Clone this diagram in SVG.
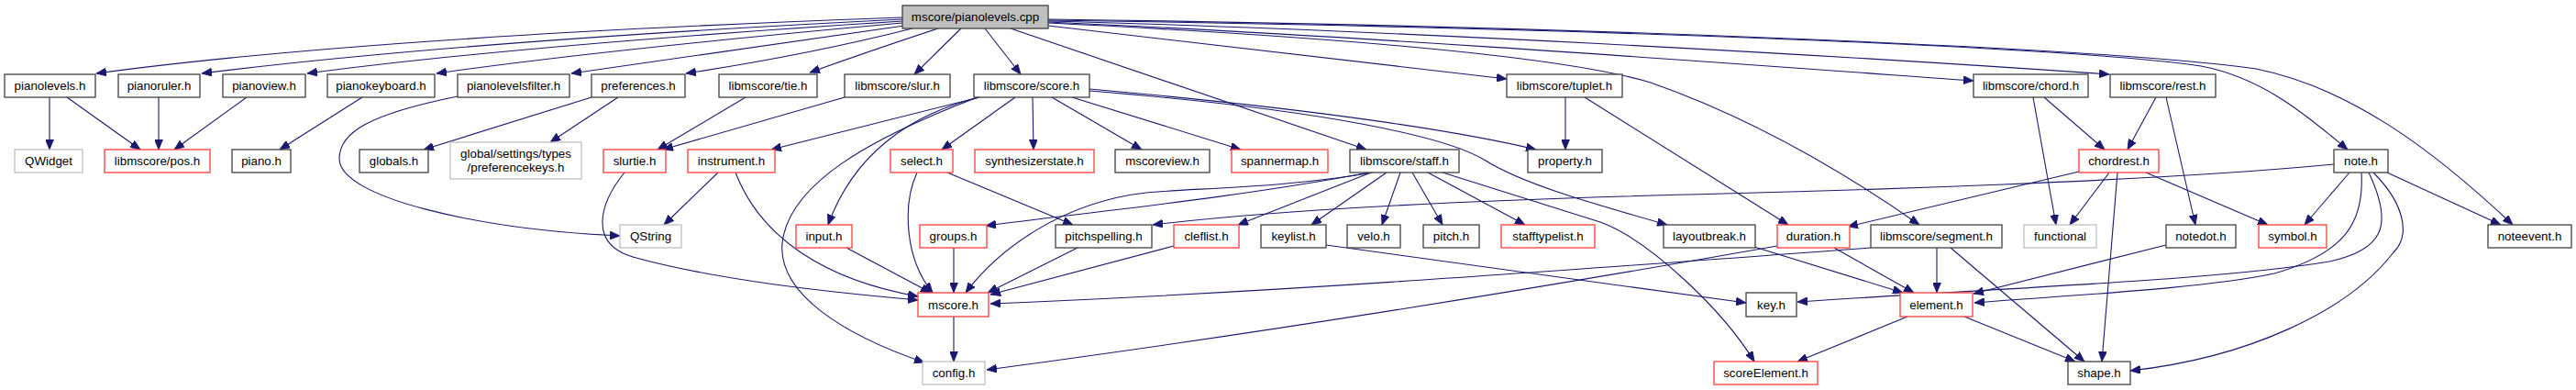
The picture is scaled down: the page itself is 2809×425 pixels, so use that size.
<svg xmlns="http://www.w3.org/2000/svg" width="2809" height="425" viewBox="0 0 2809 425">
<style>
.n rect{fill:#fff;stroke:#404040;stroke-width:1.3}
.r rect{fill:#fff;stroke:#ff3b3b;stroke-width:1.3}
.g rect{fill:#fff;stroke:#bfbfbf;stroke-width:1.3}
.root rect{fill:#bfbfbf;stroke:#404040;stroke-width:1.3}
text{font-family:"Liberation Sans",Arial,Helvetica,sans-serif;font-size:13.33px;text-anchor:middle;fill:#000}
#edges path{fill:none;stroke:#191970;stroke-width:1.1;marker-end:url(#a)}
</style>
<defs>
<marker id="a" markerWidth="12" markerHeight="9" refX="11" refY="4.5" orient="auto" markerUnits="userSpaceOnUse"><path d="M0,0 L11,4.5 L0,9 z" fill="#191970" stroke="#191970" stroke-width="0.8"/></marker>
</defs>
<rect width="2809" height="425" fill="#fff"/>
<g id="edges">
<path d="M984,19 Q400,40 105,80"/>
<path d="M984,21 Q500,45 220,80"/>
<path d="M984,23 Q560,50 335,80"/>
<path d="M984,25 Q650,55 476,80"/>
<path d="M986,28 Q800,55 623,80"/>
<path d="M995,31 Q880,60 748,80"/>
<path d="M1023,31 Q950,55 883,79"/>
<path d="M1048,31 L997,81"/>
<path d="M1074,31 L1113,81"/>
<path d="M1102,31 L1490,163"/>
<path d="M1143,28 L1643,86"/>
<path d="M1143,25 C1450,40 1700,60 1800,90 C1900,125 2000,180 2093,245"/>
<path d="M1143,24 C1500,40 1900,70 2152,88"/>
<path d="M1143,23 C1500,32 2000,60 2300,81"/>
<path d="M1143,22 C1700,30 2250,50 2400,72 C2470,85 2520,130 2560,163"/>
<path d="M1143,21 C1700,28 2300,52 2460,75 C2560,95 2650,160 2740,245"/>
<path d="M54,106 L54,163"/>
<path d="M73,106 L153,163"/>
<path d="M173,106 L173,163"/>
<path d="M269,106 L190,163"/>
<path d="M395,106 L305,163"/>
<path d="M499,105 C400,125 370,145 370,173 C370,215 520,250 676,257"/>
<path d="M645,106 L462,163"/>
<path d="M674,106 L600,155"/>
<path d="M813,106 L717,163"/>
<path d="M921,106 L723,163"/>
<path d="M681,188 C655,220 640,265 690,280 C780,305 900,318 1001,327"/>
<path d="M783,188 L724,245"/>
<path d="M802,188 C830,260 900,305 1001,323"/>
<path d="M1068,106 L841,163"/>
<path d="M1068,106 C990,125 930,170 903,245"/>
<path d="M1066,106 C950,150 860,200 853,265 C848,320 920,365 1008,395"/>
<path d="M1107,106 L1027,163"/>
<path d="M1126,106 L1127,163"/>
<path d="M1147,106 L1245,163"/>
<path d="M1169,106 L1353,163"/>
<path d="M1188,97 C1450,120 1600,145 1675,163"/>
<path d="M1188,99 C1450,120 1580,150 1620,175 C1660,200 1730,220 1818,245"/>
<path d="M1000,188 C985,220 985,280 1017,319"/>
<path d="M1033,188 L1170,245"/>
<path d="M1040,270 L1040,319"/>
<path d="M1175,270 L1077,319"/>
<path d="M1280,268 L1080,321"/>
<path d="M923,270 L1015,319"/>
<path d="M1040,345 L1040,394"/>
<path d="M1497,188 C1400,205 1300,205 1250,210 C1160,220 1090,270 1053,319"/>
<path d="M1493,188 C1350,215 1200,230 1075,246"/>
<path d="M1495,188 L1350,245"/>
<path d="M1512,188 L1430,245"/>
<path d="M1527,188 L1507,245"/>
<path d="M1540,188 L1573,245"/>
<path d="M1557,188 L1663,245"/>
<path d="M1573,188 L1745,242 C1800,262 1880,340 1913,394"/>
<path d="M1707,106 L1707,163"/>
<path d="M1728,106 L1950,245"/>
<path d="M2229,106 L2295,163"/>
<path d="M2217,106 L2242,245"/>
<path d="M2351,106 L2320,163"/>
<path d="M2362,106 L2394,245"/>
<path d="M2267,187 L2015,247"/>
<path d="M2300,188 L2257,245"/>
<path d="M2309,188 L2292,394"/>
<path d="M2340,188 L2473,245"/>
<path d="M2545,179 C2350,198 2000,208 1880,211 C1600,218 1400,228 1257,245"/>
<path d="M2562,188 L2513,245"/>
<path d="M2603,188 L2727,245"/>
<path d="M2575,188 C2578,240 2560,275 2480,298 C2400,315 2250,322 2153,330"/>
<path d="M2583,188 C2610,245 2600,272 2540,285 C2420,305 2200,313 1960,329"/>
<path d="M2588,188 C2620,220 2630,255 2610,275 C2560,340 2450,390 2323,404"/>
<path d="M2362,267 L2152,320"/>
<path d="M1913,269 L2075,319"/>
<path d="M2000,270 L2087,319"/>
<path d="M2112,270 L2112,319"/>
<path d="M2127,270 L2273,394"/>
<path d="M2080,345 L1960,394"/>
<path d="M2142,345 L2263,394"/>
<path d="M1446,267 L1904,330"/>
<path d="M1938,268 C1700,310 1400,360 1076,403"/>
<path d="M2040,270 C1700,295 1400,318 1080,331"/>
</g>
<g id="root" class="root"><rect x="984" y="6" width="159" height="25"/><text x="1063.5" y="23">mscore/pianolevels.cpp</text></g>
<g id="pianolevels_h" class="n"><rect x="5" y="81" width="99" height="25"/><text x="54.5" y="98">pianolevels.h</text></g>
<g id="pianoruler_h" class="n"><rect x="129" y="81" width="89" height="25"/><text x="173.5" y="98">pianoruler.h</text></g>
<g id="pianoview_h" class="n"><rect x="243" y="81" width="90" height="25"/><text x="288" y="98">pianoview.h</text></g>
<g id="pianokeyboard_h" class="n"><rect x="357" y="81" width="117" height="25"/><text x="415.5" y="98">pianokeyboard.h</text></g>
<g id="pianolevelsfilter_h" class="n"><rect x="499" y="81" width="122" height="25"/><text x="560" y="98">pianolevelsfilter.h</text></g>
<g id="preferences_h" class="n"><rect x="645" y="81" width="102" height="25"/><text x="696" y="98">preferences.h</text></g>
<g id="tie_h" class="n"><rect x="784" y="81" width="107" height="25"/><text x="837.5" y="98">libmscore/tie.h</text></g>
<g id="slur_h" class="n"><rect x="921" y="81" width="115" height="25"/><text x="978.5" y="98">libmscore/slur.h</text></g>
<g id="score_h" class="n"><rect x="1062" y="81" width="126" height="25"/><text x="1125" y="98">libmscore/score.h</text></g>
<g id="tuplet_h" class="n"><rect x="1643" y="81" width="126" height="25"/><text x="1706" y="98">libmscore/tuplet.h</text></g>
<g id="chord_h" class="n"><rect x="2152" y="81" width="125" height="25"/><text x="2214.5" y="98">libmscore/chord.h</text></g>
<g id="rest_h" class="n"><rect x="2301" y="81" width="115" height="25"/><text x="2358.5" y="98">libmscore/rest.h</text></g>
<g id="QWidget" class="g"><rect x="16" y="163" width="74" height="25"/><text x="53" y="180">QWidget</text></g>
<g id="pos_h" class="r"><rect x="114" y="163" width="115" height="25"/><text x="171.5" y="180">libmscore/pos.h</text></g>
<g id="piano_h" class="n"><rect x="253" y="163" width="64" height="25"/><text x="285" y="180">piano.h</text></g>
<g id="globals_h" class="n"><rect x="392" y="163" width="75" height="25"/><text x="429.5" y="180">globals.h</text></g>
<g id="preferencekeys_h" class="g"><rect x="491" y="155" width="143" height="40"/><text x="562.5" y="171.5">global/settings/types</text><text x="562.5" y="186.5">/preferencekeys.h</text></g>
<g id="slurtie_h" class="r"><rect x="658" y="163" width="68" height="25"/><text x="692" y="180">slurtie.h</text></g>
<g id="instrument_h" class="r"><rect x="750" y="163" width="95" height="25"/><text x="797.5" y="180">instrument.h</text></g>
<g id="select_h" class="r"><rect x="971" y="163" width="68" height="25"/><text x="1005" y="180">select.h</text></g>
<g id="synthesizerstate_h" class="r"><rect x="1063" y="163" width="130" height="25"/><text x="1128" y="180">synthesizerstate.h</text></g>
<g id="mscoreview_h" class="n"><rect x="1216" y="163" width="103" height="25"/><text x="1267.5" y="180">mscoreview.h</text></g>
<g id="spannermap_h" class="r"><rect x="1343" y="163" width="105" height="25"/><text x="1395.5" y="180">spannermap.h</text></g>
<g id="staff_h" class="n"><rect x="1472" y="163" width="119" height="25"/><text x="1531.5" y="180">libmscore/staff.h</text></g>
<g id="property_h" class="n"><rect x="1666" y="163" width="81" height="25"/><text x="1706.5" y="180">property.h</text></g>
<g id="chordrest_h" class="r"><rect x="2267" y="163" width="87" height="25"/><text x="2310.5" y="180">chordrest.h</text></g>
<g id="note_h" class="n"><rect x="2545" y="163" width="59" height="25"/><text x="2574.5" y="180">note.h</text></g>
<g id="QString" class="g"><rect x="676" y="245" width="67" height="25"/><text x="709.5" y="262">QString</text></g>
<g id="input_h" class="r"><rect x="868" y="245" width="61" height="25"/><text x="898.5" y="262">input.h</text></g>
<g id="groups_h" class="r"><rect x="1003" y="245" width="73" height="25"/><text x="1039.5" y="262">groups.h</text></g>
<g id="pitchspelling_h" class="n"><rect x="1151" y="245" width="105" height="25"/><text x="1203.5" y="262">pitchspelling.h</text></g>
<g id="cleflist_h" class="r"><rect x="1280" y="245" width="71" height="25"/><text x="1315.5" y="262">cleflist.h</text></g>
<g id="keylist_h" class="n"><rect x="1375" y="245" width="71" height="25"/><text x="1410.5" y="262">keylist.h</text></g>
<g id="velo_h" class="n"><rect x="1469" y="245" width="58" height="25"/><text x="1498" y="262">velo.h</text></g>
<g id="pitch_h" class="n"><rect x="1552" y="245" width="61" height="25"/><text x="1582.5" y="262">pitch.h</text></g>
<g id="stafftypelist_h" class="r"><rect x="1637" y="245" width="102" height="25"/><text x="1688" y="262">stafftypelist.h</text></g>
<g id="layoutbreak_h" class="n"><rect x="1814" y="245" width="100" height="25"/><text x="1864" y="262">layoutbreak.h</text></g>
<g id="duration_h" class="r"><rect x="1938" y="245" width="79" height="25"/><text x="1977.5" y="262">duration.h</text></g>
<g id="segment_h" class="n"><rect x="2040" y="245" width="143" height="25"/><text x="2111.5" y="262">libmscore/segment.h</text></g>
<g id="functional" class="g"><rect x="2207" y="245" width="79" height="25"/><text x="2246.5" y="262">functional</text></g>
<g id="notedot_h" class="n"><rect x="2362" y="245" width="76" height="25"/><text x="2400" y="262">notedot.h</text></g>
<g id="symbol_h" class="r"><rect x="2463" y="245" width="74" height="25"/><text x="2500" y="262">symbol.h</text></g>
<g id="noteevent_h" class="n"><rect x="2713" y="245" width="91" height="25"/><text x="2758.5" y="262">noteevent.h</text></g>
<g id="mscore_h" class="r"><rect x="1001" y="319" width="77" height="26"/><text x="1039.5" y="336.5">mscore.h</text></g>
<g id="key_h" class="n"><rect x="1904" y="319" width="55" height="26"/><text x="1931.5" y="336.5">key.h</text></g>
<g id="element_h" class="r"><rect x="2072" y="319" width="79" height="26"/><text x="2111.5" y="336.5">element.h</text></g>
<g id="config_h" class="g"><rect x="1006" y="394" width="68" height="25"/><text x="1040" y="411">config.h</text></g>
<g id="scoreElement_h" class="r"><rect x="1869" y="394" width="113" height="25"/><text x="1925.5" y="411">scoreElement.h</text></g>
<g id="shape_h" class="n"><rect x="2255" y="394" width="68" height="25"/><text x="2289" y="411">shape.h</text></g>
</svg>
